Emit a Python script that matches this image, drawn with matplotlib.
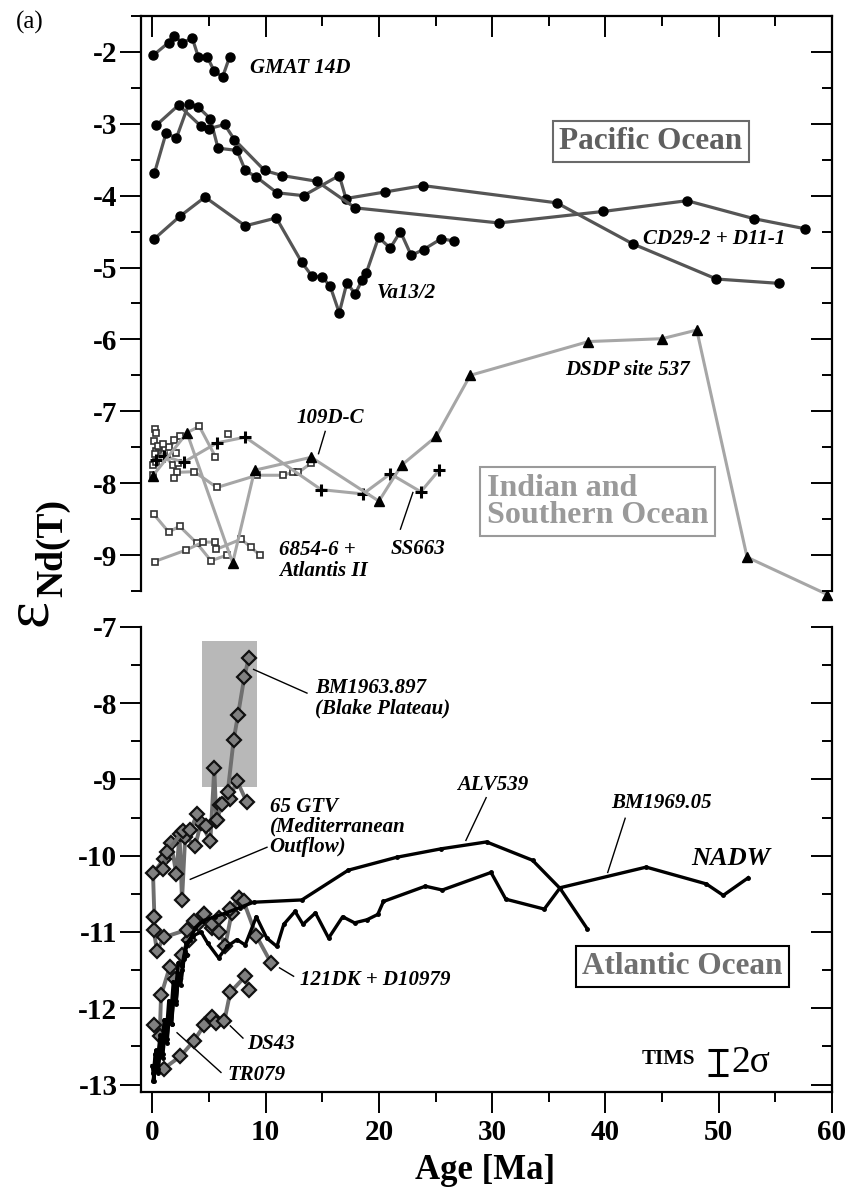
import matplotlib
matplotlib.use("Agg")
import matplotlib.pyplot as plt
from matplotlib.ticker import MultipleLocator

plt.rcParams['font.family'] = ['Liberation Serif', 'DejaVu Serif']
plt.rcParams['axes.unicode_minus'] = False

# === DATA: Pacific Ocean (age [Ma], eps Nd) ===
gmat_age = [0.06, 1.44, 1.94, 2.65, 3.53, 4.06, 4.85, 5.44, 6.2, 6.82]
gmat_eps = [-2.05, -1.87, -1.78, -1.87, -1.81, -2.07, -2.07, -2.26, -2.35, -2.07]

cd29_age = [0.18, 1.21, 2.12, 3.2, 4.0, 5.12, 5.8, 7.47, 8.21, 9.18, 11.0, 13.35,
            16.5, 17.09, 20.5, 23.9, 35.7, 42.4, 49.8, 55.3]
cd29_eps = [-3.69, -3.13, -3.20, -2.73, -2.76, -2.93, -3.34, -3.37, -3.65, -3.74,
            -3.96, -4.0, -3.72, -4.04, -3.95, -3.86, -4.10, -4.67, -5.16, -5.22]

d11_age = [0.35, 2.32, 4.27, 4.97, 6.38, 7.24, 9.91, 11.44, 14.53, 17.91, 30.6,
           39.8, 47.2, 53.1, 57.6]
d11_eps = [-3.02, -2.74, -3.03, -3.07, -3.01, -3.22, -3.65, -3.72, -3.80, -4.17,
           -4.38, -4.22, -4.07, -4.32, -4.46]

va13_age = [0.18, 2.41, 4.65, 8.2, 10.94, 13.2, 14.1, 14.97, 15.7, 16.5, 17.18,
            17.9, 18.5, 18.9, 19.97, 21.0, 21.9, 22.85, 23.94, 25.5, 26.6]
va13_eps = [-4.6, -4.29, -4.02, -4.42, -4.31, -4.93, -5.12, -5.13, -5.26, -5.63,
            -5.21, -5.37, -5.18, -5.07, -4.58, -4.73, -4.5, -4.83, -4.75, -4.6, -4.63]

# === DATA: Indian and Southern Ocean ===
dsdp_age = [0.03, 3.06, 7.09, 9.03, 14.03, 20.0, 22.0, 25.06, 28.06, 38.5, 45.0,
            48.06, 52.5, 59.6]
dsdp_eps = [-7.9, -7.3, -9.11, -7.82, -7.64, -8.25, -7.75, -7.35, -6.5, -6.03,
            -5.99, -5.87, -9.03, -9.55]

ss663_age = [0.35, 1.0, 2.76, 5.7, 8.2, 14.9, 18.6, 21.0, 23.7, 25.3]
ss663_eps = [-7.68, -7.62, -7.71, -7.44, -7.36, -8.09, -8.15, -7.87, -8.12, -7.82]

d109_age = [0.1, 0.3, 0.6, 1.0, 1.8, 2.2, 3.7, 5.7, 9.24, 11.5, 12.4, 12.9, 14.03]
d109_eps = [-7.75, -7.55, -7.5, -7.6, -7.75, -7.85, -7.84, -8.06, -7.89, -7.89,
            -7.85, -7.85, -7.72]

d109b_age = [0.3, 1.5, 2.4, 4.15, 5.56]
d109b_eps = [-7.7, -7.5, -7.35, -7.21, -7.63]

d109_pts_age = [0.2, 0.35, 0.15, 0.5, 0.9, 0.2, 1.9, 2.1, 2.3, 1.9, 6.64, 0.1]
d109_pts_eps = [-7.25, -7.3, -7.42, -7.48, -7.45, -7.6, -7.4, -7.58, -7.72, -7.93,
                -7.32, -7.88]

d6854_age = [0.12, 1.44, 2.41, 3.9, 5.18, 6.59]
d6854_eps = [-8.43, -8.68, -8.6, -8.83, -9.08, -9.0]

atl2_age = [0.2, 2.99, 4.47, 5.5, 5.65, 7.83, 8.7, 9.47]
atl2_eps = [-9.09, -8.93, -8.82, -8.82, -8.92, -8.78, -8.89, -9.0]

# === DATA: Atlantic Ocean ===
bm1963_age = [0.94, 1.3, 2.71, 3.35, 3.94, 4.76, 5.7, 6.15, 6.65, 7.18, 7.56, 8.12, 8.5]
bm1963_eps = [-10.18, -9.95, -9.68, -9.67, -9.46, -9.61, -9.53, -9.32, -9.17, -8.48,
              -8.16, -7.66, -7.41]

gtv_age = [0.18, 0.06, 1.0, 1.65, 2.12, 2.4, 2.62, 2.9, 3.79, 4.29, 5.12, 5.47,
           5.65, 6.0, 6.82, 7.47, 8.35]
gtv_eps = [-10.8, -10.23, -10.05, -9.84, -10.24, -9.72, -10.58, -9.75, -9.87, -9.57,
           -9.81, -8.85, -9.54, -9.33, -9.26, -9.02, -9.30]

dk121_age = [0.18, 0.12, 0.41, 1.0, 3.06, 3.65, 4.53, 5.3, 5.85, 6.88, 7.62, 8.06,
             9.18, 10.5]
dk121_eps = [-10.8, -10.97, -11.25, -11.07, -10.97, -10.86, -10.77, -10.9, -10.82,
             -10.70, -10.56, -10.60, -11.05, -11.41]

d10979_age = [0.12, 0.65, 0.77, 1.53, 2.03, 2.6, 3.2, 4.0, 4.53, 5.3, 5.9, 6.44, 7.0, 7.62]
d10979_eps = [-12.22, -12.36, -11.83, -11.46, -11.62, -11.3, -11.1, -10.9, -10.77,
              -10.95, -11.0, -11.18, -10.75, -10.56]

ds43_age = [1.0, 2.47, 3.65, 4.59, 5.26, 5.65, 6.35, 6.88, 8.21, 8.5]
ds43_eps = [-12.79, -12.63, -12.43, -12.22, -12.12, -12.19, -12.17, -11.79, -11.58, -11.76]

tr079_age = [0.0, 0.15, 0.3, 0.5, 0.7, 0.9, 1.1, 1.3, 1.5, 1.7, 1.9, 2.1, 2.3, 2.5, 2.8, 3.1]
tr079_eps = [-12.75, -12.95, -12.55, -12.8, -12.35, -12.6, -12.15, -12.4, -11.95,
             -12.2, -11.75, -11.95, -11.55, -11.7, -11.35, -11.3]

alv539_age = [0.05, 0.3, 0.5, 0.7, 0.9, 1.1, 1.3, 1.5, 1.7, 1.9, 2.1, 2.3, 2.6, 2.9,
              3.3, 3.8, 4.5, 5.5, 6.5, 7.7, 8.94, 13.2, 17.3, 21.6, 25.5, 29.5,
              33.56, 36.0, 38.4]
alv539_eps = [-12.95, -12.75, -12.85, -12.55, -12.65, -12.35, -12.45, -12.1, -12.2,
              -11.85, -11.9, -11.6, -11.5, -11.25, -11.1, -10.95, -10.85, -10.8,
              -10.75, -10.68, -10.61, -10.58, -10.19, -10.02, -9.91, -9.82,
              -10.06, -10.43, -10.96]

bm1969_age = [0.1, 0.25, 0.45, 0.65, 0.85, 1.05, 1.25, 1.45, 1.65, 1.85, 2.05, 2.3,
              2.6, 3.0, 3.6, 4.3, 4.9, 5.85, 6.59, 7.47, 8.2, 9.18, 10.1, 11.0, 11.6,
              12.6, 13.3, 14.4, 15.56, 16.8, 17.85, 18.94, 19.9, 20.4, 24.1, 25.6,
              29.9, 31.2, 34.6, 36.0, 43.6, 48.9, 50.4, 52.6]
bm1969_eps = [-12.85, -12.6, -12.7, -12.4, -12.5, -12.15, -12.3, -11.9, -12.05,
              -11.65, -11.75, -11.4, -11.45, -11.15, -11.05, -11.0, -11.15, -11.34,
              -11.19, -11.10, -11.17, -10.80, -11.08, -11.19, -10.9, -10.73, -10.9,
              -10.75, -11.08, -10.8, -10.88, -10.84, -10.77, -10.60, -10.40, -10.45,
              -10.22, -10.57, -10.70, -10.42, -10.15, -10.37, -10.52, -10.29]

# shaded age window for BM1963.897
blake_box_age = (4.41, 9.26)
blake_box_eps = (-9.10, -7.19)

# === STYLE ===
PAC = '#555555'
IND = '#a6a6a6'
ATL = '#6f6f6f'
DIA_FACE = '#808080'
FS_TICK = 21
FS_LAB = 15


def add_right_ticks(ax, ylim):
    """Right spine with inward ticks (left ones point outward)"""
    axr = ax.twinx()
    axr.set_ylim(*ylim)
    axr.yaxis.set_major_locator(MultipleLocator(1))
    axr.yaxis.set_minor_locator(MultipleLocator(0.5))
    axr.tick_params(axis='y', which='major', direction='in', length=15, width=1.4,
                    labelright=False)
    axr.tick_params(axis='y', which='minor', direction='in', length=7.5, width=1.4)
    for s in ['left', 'top', 'bottom']:
        axr.spines[s].set_visible(False)
    axr.spines['right'].set_linewidth(1.6)
    ax.spines['right'].set_visible(False)


def base_axes(ax, ylim):
    ax.set_xlim(-1, 60)
    ax.set_ylim(*ylim)
    ax.xaxis.set_major_locator(MultipleLocator(10))
    ax.xaxis.set_minor_locator(MultipleLocator(5))
    ax.yaxis.set_major_locator(MultipleLocator(1))
    ax.yaxis.set_minor_locator(MultipleLocator(0.5))
    ax.tick_params(axis='y', which='major', direction='out', length=15, width=1.4,
                   labelsize=FS_TICK, pad=2)
    ax.tick_params(axis='y', which='minor', direction='out', length=7.5, width=1.4)
    for lab in ax.get_yticklabels():
        lab.set_fontweight('bold')
    for s in ax.spines.values():
        s.set_linewidth(1.6)
    add_right_ticks(ax, ylim)


def label(ax, x, y, s, size=FS_LAB, **kw):
    ax.text(x, y, s, fontsize=size, fontweight='bold', fontstyle='italic',
            va='center', ha='left', **kw)


def pointer(ax, x, y):
    ax.plot(x, y, color='black', lw=1.0)


fig = plt.figure(figsize=(8.51, 11.91), dpi=100)
ax_top = fig.add_axes([0.1657, 0.5038, 0.812, 0.4828])
ax_bot = fig.add_axes([0.1657, 0.0829, 0.812, 0.3909])

# === TOP PANEL ===
top_lim = (-9.5, -1.5)
base_axes(ax_top, top_lim)
ax_top.spines['bottom'].set_visible(False)
ax_top.xaxis.set_ticks_position('top')
ax_top.tick_params(axis='x', which='major', direction='in', length=15, width=1.4,
                   labeltop=False, labelbottom=False)
ax_top.tick_params(axis='x', which='minor', direction='in', length=7.5, width=1.4)

# Indian / Southern Ocean
sq = dict(color=IND, lw=2.2, marker='s', ms=5, mfc='white', mec='#333333',
          mew=1.2, zorder=3)
ax_top.plot(d6854_age, d6854_eps, **sq)
ax_top.plot(atl2_age, atl2_eps, **sq)
ax_top.plot(d109_age, d109_eps, **sq)
ax_top.plot(d109b_age, d109b_eps, **sq)
ax_top.plot(d109_pts_age, d109_pts_eps, ls='none', marker='s', ms=5,
            mfc='white', mec='#333333', mew=1.2, zorder=3)
ax_top.plot(ss663_age, ss663_eps, color=IND, lw=2.2, marker='+', ms=8,
            mec='black', mew=2.2, zorder=4)
ax_top.plot(dsdp_age, dsdp_eps, color=IND, lw=2.2, marker='^', ms=7.5,
            mfc='black', mec='black', zorder=4, clip_on=False)

# Pacific
for a, e in [(gmat_age, gmat_eps), (cd29_age, cd29_eps), (d11_age, d11_eps),
             (va13_age, va13_eps)]:
    ax_top.plot(a, e, color=PAC, lw=2.3, marker='o', ms=6.5, mfc='black',
                mec='black', zorder=5)

label(ax_top, 8.65, -2.22, 'GMAT 14D')
label(ax_top, 43.3, -4.6, 'CD29-2 + D11-1')
label(ax_top, 19.8, -5.36, 'Va13/2')
label(ax_top, 36.4, -6.42, 'DSDP site 537')
label(ax_top, 12.7, -7.09, '109D-C')
pointer(ax_top, [15.26, 14.67], [-7.28, -7.59])
label(ax_top, 11.2, -9.08, '6854-6 +\nAtlantis II', linespacing=1.05)
label(ax_top, 21.06, -8.91, 'SS663')
pointer(ax_top, [21.9, 23.0], [-8.64, -8.13])

ax_top.text(44.0, -3.25, 'Pacific Ocean', fontsize=22.5, fontweight='bold',
            color='#5f5f5f', ha='center', va='center',
            bbox=dict(boxstyle='square,pad=0.2', fc='white', ec='#6a6a6a', lw=1.5))
ax_top.text(39.3, -8.26, 'Indian and\nSouthern Ocean', fontsize=23,
            fontweight='bold', color='#9a9a9a', ha='center', va='center',
            multialignment='left', linespacing=0.92,
            bbox=dict(boxstyle='square,pad=0.2', fc='white', ec='#9a9a9a', lw=1.5))

# === BOTTOM PANEL ===
bot_lim = (-13.1, -7)
base_axes(ax_bot, bot_lim)
ax_bot.spines['top'].set_visible(False)
ax_bot.xaxis.set_ticks_position('bottom')
ax_bot.tick_params(axis='x', which='major', direction='out', length=15, width=1.4,
                   labelsize=FS_TICK, pad=4)
ax_bot.tick_params(axis='x', which='minor', direction='out', length=7.5, width=1.4)
for lab in ax_bot.get_xticklabels():
    lab.set_fontweight('bold')

ax_bot.add_patch(plt.Rectangle((blake_box_age[0], blake_box_eps[0]),
                               blake_box_age[1] - blake_box_age[0],
                               blake_box_eps[1] - blake_box_eps[0],
                               fc='#b8b8b8', ec='none', zorder=1))

# black high-resolution records
for a, e in [(tr079_age, tr079_eps), (alv539_age, alv539_eps),
             (bm1969_age, bm1969_eps)]:
    ax_bot.plot(a, e, color='black', lw=2.4, marker='o', ms=2.5, zorder=4)

# grey diamond records
for a, e in [(d10979_age, d10979_eps), (dk121_age, dk121_eps), (ds43_age, ds43_eps),
             (gtv_age, gtv_eps), (bm1963_age, bm1963_eps)]:
    ax_bot.plot(a, e, color=ATL, lw=2.8, marker='D', ms=7, mfc=DIA_FACE,
                mec='#111111', mew=1.6, zorder=3)

label(ax_bot, 14.4, -7.94, 'BM1963.897\n(Blake Plateau)', linespacing=1.0)
pointer(ax_bot, [8.94, 13.65], [-7.56, -7.87])
label(ax_bot, 10.35, -9.62, '65 GTV\n(Mediterranean\nOutflow)', linespacing=1.0)
pointer(ax_bot, [10.12, 3.35], [-9.89, -10.31])
label(ax_bot, 26.9, -9.07, 'ALV539')
pointer(ax_bot, [29.47, 27.68], [-9.24, -9.80])
label(ax_bot, 40.5, -9.31, 'BM1969.05')
pointer(ax_bot, [41.74, 40.2], [-9.51, -10.22])
label(ax_bot, 47.6, -10.04, 'NADW', size=19)
label(ax_bot, 13.06, -11.63, '121DK + D10979')
pointer(ax_bot, [11.23, 12.47], [-11.47, -11.58])
label(ax_bot, 8.41, -12.47, 'DS43')
pointer(ax_bot, [6.88, 8.0], [-12.23, -12.39])
label(ax_bot, 6.59, -12.87, 'TR079')
pointer(ax_bot, [2.18, 6.06], [-12.32, -12.84])

ax_bot.text(46.8, -11.45, 'Atlantic Ocean', fontsize=22.5, fontweight='bold',
            color='#707070', ha='center', va='center',
            bbox=dict(boxstyle='square,pad=0.2', fc='white', ec='black', lw=1.5))

# TIMS 2 sigma error bar
ax_bot.text(43.2, -12.66, 'TIMS', fontsize=15, fontweight='bold', ha='left',
            va='center')
ax_bot.errorbar([49.97], [-12.71], yerr=[0.17], color='black', lw=2.2,
                capsize=7, capthick=2.2)
ax_bot.text(51.1, -12.71, '2σ', fontsize=27, ha='left', va='center')

# axis labels
fig.text(0.57, 0.0176, 'Age [Ma]', fontsize=25, fontweight='bold', ha='center',
         va='center')
fig.text(0.037, 0.486, 'ε', fontsize=46, rotation=90, ha='center', va='center')
fig.text(0.062, 0.540, 'Nd(T)', fontsize=27, fontweight='bold', rotation=90,
         ha='center', va='center')
fig.text(0.019, 0.9815, '(a)', fontsize=18, ha='left', va='center')

fig.savefig('out.png', dpi=100)
